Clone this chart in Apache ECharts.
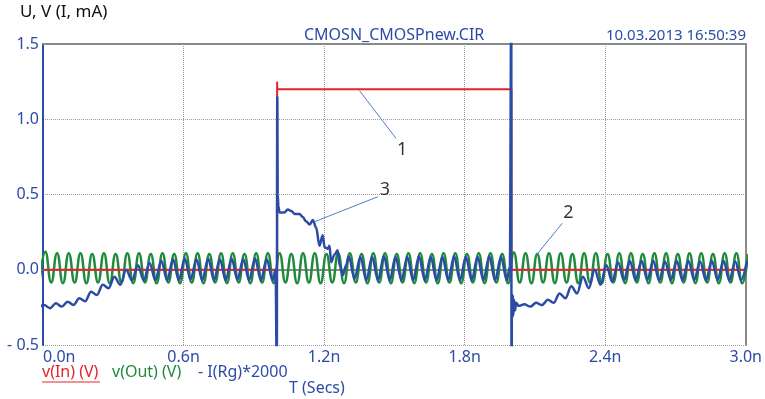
<!DOCTYPE html>
<html>
<head>
<meta charset="utf-8">
<script src="https://cdn.jsdelivr.net/npm/echarts@6/dist/echarts.min.js"></script>
<style>
    html, body { margin: 0; padding: 0; background: #fff; }
    #chart { width: 765px; height: 399px; }
</style>
</head>
<body>
<div id="chart"></div>
<script>
(function () {

    // ripple half period, ns (the out / gate ripple is ~20 GHz)
    var STEP = 0.025;

    // v(In): input pulse
    var inTimes  = [0, 0.9995, 0.9995, 1.0, 1.9995, 1.9995, 3.0];
    var inValues = [0, 0,      1.25,   1.2, 1.2,    0,      0];

    // v(Out): alternating trough / peak, first sample at outStart
    var outStart = -0.015;
    var outValues = [
        -0.085, 0.12, -0.085, 0.11, -0.09, 0.11, -0.085, 0.11, -0.09, 0.105,
        -0.085, 0.11, -0.09, 0.105, -0.085, 0.11, -0.09, 0.11, -0.085, 0.105,
        -0.09, 0.11, -0.085, 0.105, -0.09, 0.11, -0.085, 0.11, -0.09, 0.105,
        -0.085, 0.11, -0.09, 0.11, -0.085, 0.105, -0.09, 0.11, -0.085, 0.11,
        -0.09, 0.11, -0.085, 0.105, -0.09, 0.11, -0.085, 0.11, -0.09, 0.105,
        -0.085, 0.11, -0.09, 0.11, -0.085, 0.105, -0.09, 0.11, -0.085, 0.11,
        -0.09, 0.105, -0.085, 0.11, -0.09, 0.11, -0.085, 0.105, -0.09, 0.11,
        -0.085, 0.11, -0.09, 0.105, -0.085, 0.11, -0.09, 0.11, -0.085, 0.105,
        -0.09, 0.115, -0.085, 0.11, -0.09, 0.105, -0.085, 0.11, -0.09, 0.11,
        -0.085, 0.105, -0.09, 0.11, -0.085, 0.11, -0.09, 0.105, -0.085, 0.11,
        -0.09, 0.11, -0.085, 0.105, -0.09, 0.11, -0.085, 0.11, -0.09, 0.105,
        -0.085, 0.11, -0.09, 0.11, -0.085, 0.105, -0.09, 0.11, -0.085, 0.11,
        -0.09, 0.105
    ];

    // -I(Rg)*2000, part 1: before the rising edge (peak / trough grid)
    var rgAStart = -0.02;
    var rgA = [
        -0.25, -0.235, -0.255, -0.223, -0.245, -0.212, -0.234, -0.19, -0.21, -0.146,
        -0.168, -0.10, -0.123, -0.046, -0.10, 0.0, -0.07, 0.03, -0.07, 0.045,
        -0.07, 0.06, -0.07, 0.07, -0.07, 0.075, -0.065, 0.07, -0.07, 0.075,
        -0.07, 0.07, -0.07, 0.075, -0.065, 0.07, -0.07, 0.075, -0.07, 0.07,
        -0.07
    ];
    // spike at the rising edge and the decay after it
    var rgRiseT = [0.993, 0.998, 1.0, 1.002, 1.005, 1.01, 1.03, 1.045, 1.06, 1.075,
                   1.095, 1.109, 1.124, 1.138, 1.152, 1.166, 1.18, 1.194, 1.202, 1.216,
                   1.223, 1.23, 1.244, 1.258, 1.266, 1.28, 1.294];
    var rgRiseV = [0.0, -0.7, 1.15, 0.5, 0.42, 0.38, 0.38, 0.40, 0.39, 0.37,
                   0.37, 0.35, 0.32, 0.30, 0.33, 0.28, 0.16, 0.23, 0.15, 0.14,
                   0.16, 0.05, 0.10, 0.13, 0.03, -0.035, 0.03];
    // between the edges
    var rgBStart = 1.305;
    var rgB = [
        0.09, -0.06, 0.085, -0.07, 0.085, -0.07, 0.09, -0.07, 0.085, -0.07,
        0.085, -0.07, 0.09, -0.07, 0.085, -0.07, 0.085, -0.07, 0.09, -0.07,
        0.085, -0.07, 0.085, -0.07, 0.09, -0.07, 0.085, -0.07
    ];
    // spike at the falling edge
    var rgFallT = [1.993, 1.999, 2.0, 2.002, 2.004, 2.006, 2.008, 2.011, 2.015, 2.02];
    var rgFallV = [0.02, 1.8, -0.8, -0.18, -0.32, -0.17, -0.30, -0.2, -0.27, -0.22];
    // recovery after the falling edge
    var rgCStart = 2.03;
    var rgC = [
        -0.24, -0.23, -0.245, -0.22, -0.235, -0.20, -0.22, -0.157, -0.19, -0.11,
        -0.157, -0.046, -0.123, 0.0, -0.10, 0.03, -0.08, 0.05, -0.07, 0.06,
        -0.07, 0.06, -0.068, 0.06, -0.07, 0.055, -0.068, 0.06, -0.07, 0.06,
        -0.068, 0.055, -0.07, 0.06, -0.068, 0.06, -0.07, 0.055, -0.068, 0.06
    ];

    // callouts 1, 2, 3
    var calloutNames = ['1', '3', '2'];
    var calloutFrom  = [[1.351, 1.19], [1.159, 0.319], [2.106, 0.098]];
    var calloutTo    = [[1.507, 0.873], [1.429, 0.485], [2.217, 0.309]];
    var calloutText  = [[1.533, 0.796], [1.46, 0.53], [2.243, 0.379]];

    function onGrid(start, vals) {
        return vals.map(function (v, i) {
            return [+(start + i * STEP).toFixed(4), v];
        });
    }
    function zip(ts, vs) {
        return ts.map(function (t, i) { return [t, vs[i]]; });
    }

    var inData = zip(inTimes, inValues);
    var outData = onGrid(outStart, outValues);
    var rgData = onGrid(rgAStart, rgA)
        .concat(zip(rgRiseT, rgRiseV))
        .concat(onGrid(rgBStart, rgB))
        .concat(zip(rgFallT, rgFallV))
        .concat(onGrid(rgCStart, rgC));

    var blue = '#2b4ba6';
    var red = '#e5232b';
    var green = '#1f8a3c';
    var frame = '#8a8a8a';
    var FONT = 'Noto Sans';

    var chart = echarts.init(document.getElementById('chart'), null, { renderer: 'canvas' });

    chart.setOption({
        animation: false,
        textStyle: { fontFamily: FONT },
        grid: { left: 43, right: 18, top: 44, bottom: 54 },
        xAxis: [{
            type: 'value', min: 0, max: 3, interval: 0.6,
            axisLine: { lineStyle: { color: frame, width: 2 } },
            axisTick: { show: false },
            axisLabel: {
                color: blue, fontSize: 16, margin: 4,
                alignMinLabel: 'left',
                formatter: function (v) { return v.toFixed(1) + 'n'; }
            },
            splitLine: { show: true, lineStyle: { color: '#9a9a9a', type: 'dotted', width: 1 } }
        }, {
            type: 'value', min: 0, max: 3, position: 'top',
            axisLine: { show: true, onZero: false, lineStyle: { color: frame, width: 2 } },
            axisTick: { show: false }, axisLabel: { show: false }, splitLine: { show: false }
        }],
        yAxis: [{
            type: 'value', min: -0.5, max: 1.5, interval: 0.5,
            axisLine: { show: true, onZero: false, lineStyle: { color: blue, width: 2 } },
            axisTick: { show: false },
            axisLabel: {
                color: blue, fontSize: 16, margin: 4,
                formatter: function (v) {
                    return v < 0 ? '- ' + Math.abs(v).toFixed(1) : v.toFixed(1);
                }
            },
            splitLine: { show: true, lineStyle: { color: '#9a9a9a', type: 'dotted', width: 1 } }
        }, {
            type: 'value', min: -0.5, max: 1.5, position: 'right',
            axisLine: { show: true, onZero: false, lineStyle: { color: frame, width: 2 } },
            axisTick: { show: false }, axisLabel: { show: false }, splitLine: { show: false }
        }],
        series: [
            {
                name: 'v(Out) (V)', type: 'line', data: outData,
                smooth: 0.5, showSymbol: false,
                lineStyle: { color: green, width: 2.5 }
            },
            {
                name: 'v(In) (V)', type: 'line', data: inData,
                showSymbol: false,
                lineStyle: { color: red, width: 2 }
            },
            {
                name: '- I(Rg)*2000', type: 'line', data: rgData,
                smooth: 0.35, smoothMonotone: 'x', showSymbol: false,
                lineStyle: { color: blue, width: 2.5 },
                markLine: {
                    silent: true, symbol: 'none', label: { show: false },
                    lineStyle: { color: '#4d7fc6', width: 1, type: 'solid' },
                    data: calloutFrom.map(function (p, i) {
                        return [{ coord: p }, { coord: calloutTo[i] }];
                    })
                }
            },
            {
                name: 'callouts', type: 'scatter', symbolSize: 0,
                data: calloutText.map(function (p, i) {
                    return { name: calloutNames[i], value: p };
                }),
                label: {
                    show: true, position: 'inside', color: '#000', fontSize: 18,
                    formatter: function (p) { return p.name; }
                }
            }
        ],
        graphic: [
            { type: 'text', left: 20, top: 4, style: { text: 'U, V (I, mA)', fill: '#111', font: '17px "Noto Sans"' } },
            { type: 'text', left: 304, top: 27, style: { text: 'CMOSN_CMOSPnew.CIR', fill: blue, font: '16px "Noto Sans"' } },
            { type: 'text', right: 19, top: 28, style: { text: '10.03.2013 16:50:39', fill: blue, font: '15px "Noto Sans"' } },
            { type: 'text', left: 42, top: 364, style: { text: 'v(In) (V)', fill: red, font: '16px "Noto Sans"' } },
            { type: 'line', shape: { x1: 42, y1: 382, x2: 100, y2: 382 }, style: { stroke: red, lineWidth: 1 } },
            { type: 'text', left: 112, top: 364, style: { text: 'v(Out) (V)', fill: green, font: '16px "Noto Sans"' } },
            { type: 'text', left: 198, top: 364, style: { text: '- I(Rg)*2000', fill: blue, font: '16px "Noto Sans"' } },
            { type: 'text', left: 289, top: 380, style: { text: 'T (Secs)', fill: blue, font: '16px "Noto Sans"' } }
        ]
    });
})();
</script>
</body>
</html>
